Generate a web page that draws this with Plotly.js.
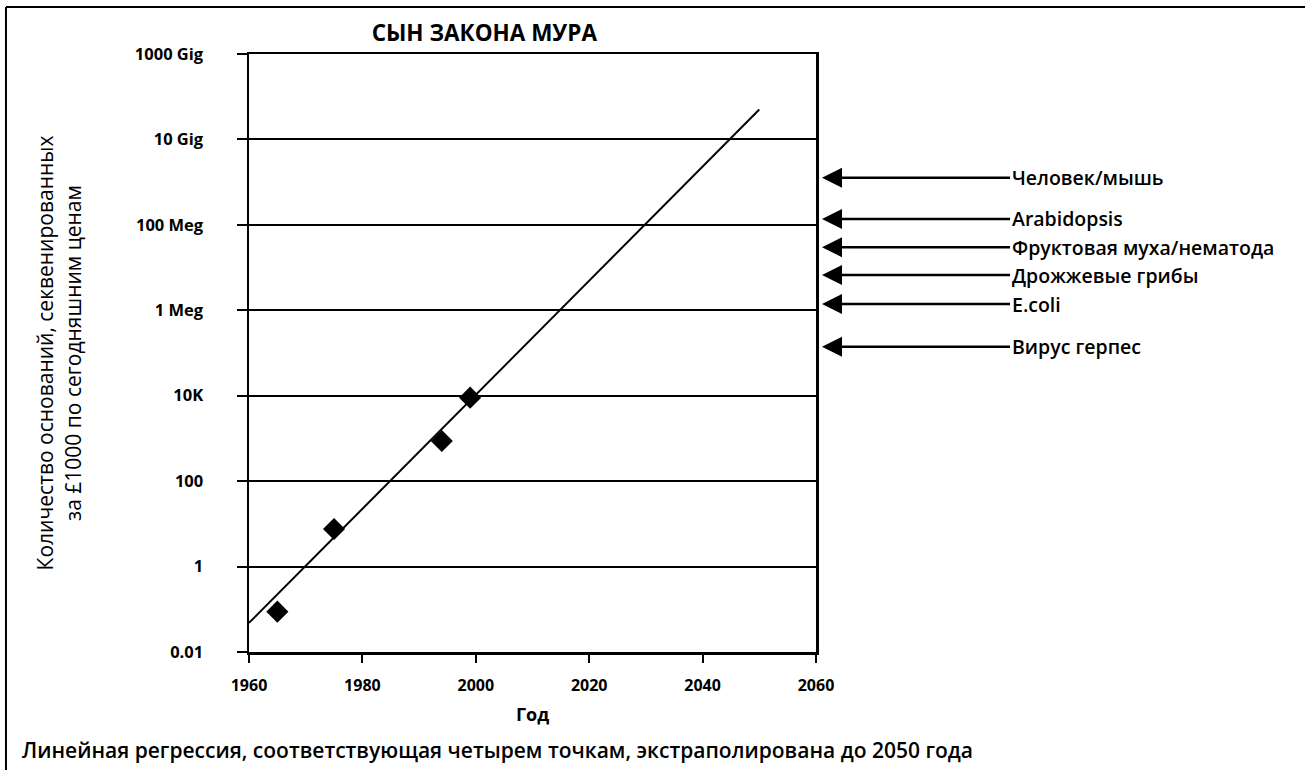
<!DOCTYPE html>
<html>
<head>
<meta charset="utf-8">
<script src="https://cdn.plot.ly/plotly-3.0.1.min.js"></script>
<style>
html,body{margin:0;padding:0;background:#fff;}
#chart{width:1305px;height:770px;}
</style>
</head>
<body>
<div id="chart"></div>
<script>
// ---- data ----
const years = [1965, 1975, 1994, 1999];
const bases = [0.088, 7.6, 870, 9000];
const fitYears = [1960, 2050];
const fitBases = [0.048, 5e10];
const genomeNames = ['Человек/мышь', 'Arabidopsis', 'Фруктовая муха/нематода', 'Дрожжевые грибы', 'E.coli', 'Вирус герпес'];
const genomeSizes = [1.26e9, 1.38e8, 3.0e7, 6.7e6, 1.4e6, 1.4e5];
const yTickVals = [0.01, 1, 100, 1e4, 1e6, 1e8, 1e10, 1e12];
const yTickText = ['0.01', '1', '100', '10K', '1 Meg', '100 Meg', '10 Gig', '1000 Gig'];
const xTickVals = [1960, 1980, 2000, 2020, 2040, 2060];

const FONT = 'Open Sans, Lato, sans-serif';

const traces = [
  {
    x: fitYears, y: fitBases, type: 'scatter', mode: 'lines',
    line: {color: '#000', width: 2}, hoverinfo: 'skip', showlegend: false
  },
  {
    x: years, y: bases, type: 'scatter', mode: 'markers',
    marker: {symbol: 'diamond', size: 17, color: '#000'}, showlegend: false
  }
];

const annotations = genomeNames.map((name, i) => ({
  xref: 'paper', yref: 'y',
  x: 1.0106, y: Math.log10(genomeSizes[i]),
  text: name, showarrow: true,
  axref: 'pixel', ayref: 'pixel', ax: 188, ay: 0,
  xanchor: 'left', yanchor: 'middle',
  arrowhead: 2, arrowsize: 1.6, arrowwidth: 2.5, arrowcolor: '#000',
  font: {family: FONT, size: 19.5, color: '#000', weight: 600}
}));

annotations.push({
  xref: 'paper', yref: 'paper', x: -0.403, y: -0.164,
  xanchor: 'left', yanchor: 'middle', showarrow: false,
  text: 'Линейная регрессия, соответствующая четырем точкам, экстраполирована до 2050 года',
  font: {family: FONT, size: 21, color: '#000', weight: 600}
});

const shapes = [
  {type: 'line', xref: 'paper', yref: 'paper', x0: -0.4286, x1: 1.87, y0: 1.0786, y1: 1.0786, line: {color: '#000', width: 2}},
  {type: 'line', xref: 'paper', yref: 'paper', x0: -0.4286, x1: -0.4286, y0: 1.0786, y1: -0.2, line: {color: '#000', width: 2}}
];

const layout = {
  width: 1305, height: 770,
  paper_bgcolor: '#fff', plot_bgcolor: '#fff',
  margin: {l: 249, r: 489, t: 54, b: 118},
  title: {
    text: '<b>СЫН ЗАКОНА МУРА</b>',
    font: {family: FONT, size: 22.5, color: '#000'},
    xref: 'paper', x: 0.415, xanchor: 'center',
    yref: 'container', y: 0.957, yanchor: 'middle'
  },
  xaxis: {
    type: 'linear', range: [1960, 2060],
    tickvals: xTickVals, ticktext: xTickVals.map(String),
    ticks: 'outside', ticklen: 8, tickwidth: 2, tickcolor: '#000',
    showline: true, linewidth: 2.5, linecolor: '#000', mirror: true,
    showgrid: false, zeroline: false,
    tickfont: {family: FONT, size: 16, color: '#000', weight: 700},
    ticklabelstandoff: 9,
    title: {text: '<b>Год</b>', font: {family: FONT, size: 18, color: '#000'}, standoff: 14}
  },
  yaxis: {
    type: 'log', range: [-2, 12],
    tickvals: yTickVals, ticktext: yTickText,
    ticks: 'outside', ticklen: 10, tickwidth: 2, tickcolor: '#000',
    showline: true, linewidth: 2.5, linecolor: '#000', mirror: true,
    showgrid: true, gridcolor: '#000', gridwidth: 2, zeroline: false,
    tickfont: {family: FONT, size: 16.5, color: '#000', weight: 700},
    ticklabelstandoff: 30,
    title: {
      text: 'Количество оснований, секвенированных<br>за £1000 по сегодняшним ценам',
      font: {family: FONT, size: 21, color: '#000'}, standoff: 48
    }
  },
  annotations: annotations,
  shapes: shapes,
  showlegend: false
};

Plotly.newPlot('chart', traces, layout, {staticPlot: true, displayModeBar: false});
</script>
</body>
</html>
